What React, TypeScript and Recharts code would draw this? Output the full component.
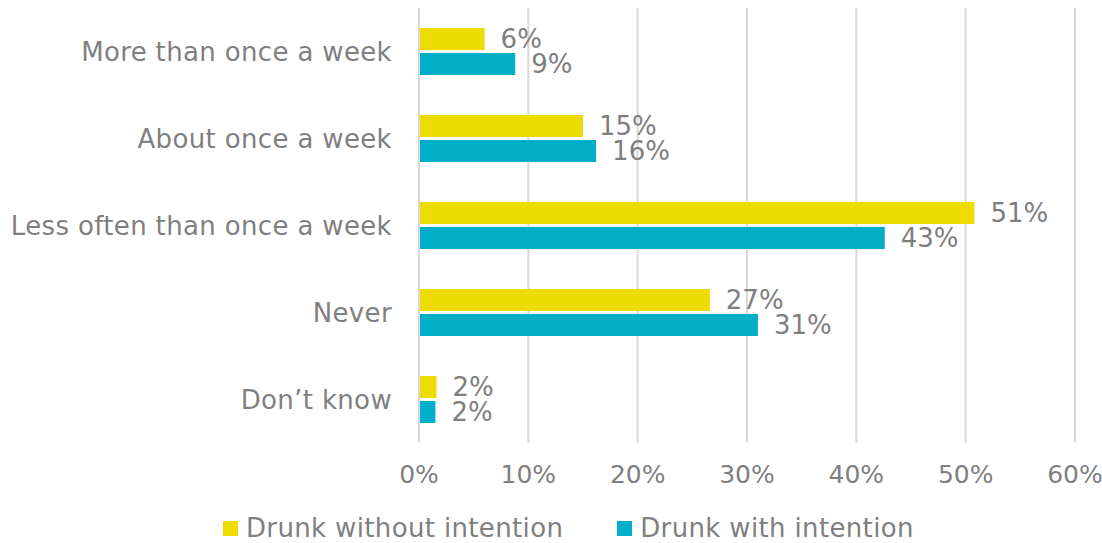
import React from "react";
import { BarChart, Bar, XAxis, YAxis, CartesianGrid, LabelList } from "recharts";

const categories = ["More than once a week", "About once a week", "Less often than once a week", "Never", "Don\u2019t know"];
const withoutIntention = [6.0, 15.0, 50.8, 26.6, 1.6];
const withIntention = [8.8, 16.2, 42.6, 31.0, 1.5];
const xTicks = [0, 10, 20, 30, 40, 50, 60];
const seriesNames = ["Drunk without intention", "Drunk with intention"];
const colors = ["#EEDC00", "#00AEC7"];

const data = categories.map((c, i) => ({ name: c, a: withoutIntention[i], b: withIntention[i] }));

const FONT = "'DejaVu Sans', Verdana, sans-serif";
const GRAY = "#7f7f7f";
const FS = 26;

export default function App() {
  return (
    <div style={{ position: "absolute", left: 0, top: 0, width: 1102, height: 543, background: "#fff" }}>
      <BarChart
        width={1102}
        height={543}
        data={data}
        layout="vertical"
        margin={{ top: 8, right: 27, left: 0, bottom: 70 }}
        barCategoryGap={20}
        barGap={3}
      >
        <CartesianGrid horizontal={false} vertical={true} stroke="#d9d9d9" strokeWidth={2} />
        <XAxis
          type="number"
          domain={[0, 60]}
          ticks={xTicks}
          height={30}
          tickFormatter={(v) => `${v}%`}
          axisLine={false}
          tickLine={false}
          tickMargin={16}
          tick={{ fill: GRAY, fontSize: 25, fontFamily: FONT }}
        />
        <YAxis
          type="category"
          dataKey="name"
          width={419}
          axisLine={{ stroke: "#d9d9d9", strokeWidth: 2 }}
          tickLine={false}
          tickMargin={21}
          tick={{ fill: GRAY, fontSize: FS, fontFamily: FONT, letterSpacing: 0.35 }}
        />
        <Bar dataKey="a" name={seriesNames[0]} fill={colors[0]} barSize={22} isAnimationActive={false}>
          <LabelList dataKey="a" position="right" offset={16} formatter={(v: number) => `${Math.round(v)}%`} fill={GRAY} fontSize={FS} fontFamily={FONT} />
        </Bar>
        <Bar dataKey="b" name={seriesNames[1]} fill={colors[1]} barSize={22} isAnimationActive={false}>
          <LabelList dataKey="b" position="right" offset={16} formatter={(v: number) => `${Math.round(v)}%`} fill={GRAY} fontSize={FS} fontFamily={FONT} />
        </Bar>
      </BarChart>
      <div style={{ position: "absolute", left: 223, top: 513, display: "flex", fontFamily: FONT, fontSize: FS, color: GRAY, lineHeight: "30px", letterSpacing: 0.35 }}>
        {seriesNames.map((n, i) => (
          <div key={n} style={{ display: "flex", alignItems: "center", marginRight: i === 0 ? 54 : 0 }}>
            <span style={{ display: "inline-block", width: 15, height: 15, background: colors[i], marginRight: 8 }} />
            <span>{n}</span>
          </div>
        ))}
      </div>
    </div>
  );
}
